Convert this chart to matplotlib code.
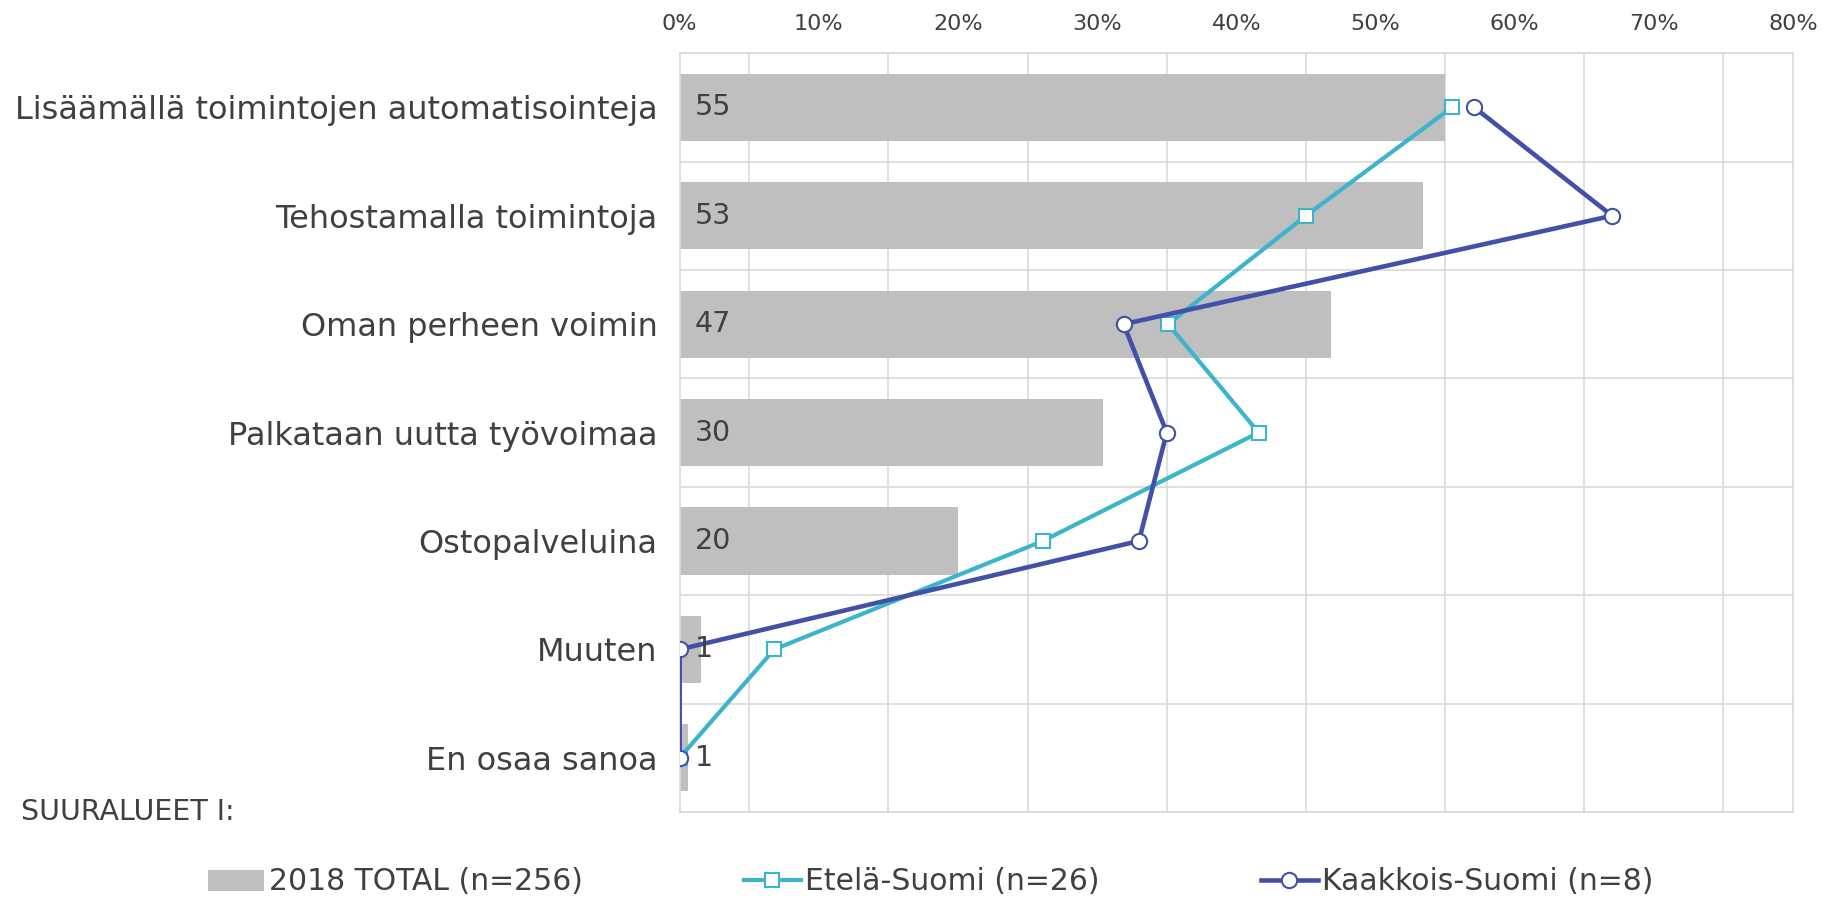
import matplotlib
matplotlib.use("Agg")
import matplotlib.pyplot as plt
import numpy as np

categories = ["Lisäämällä toimintojen automatisointeja", "Tehostamalla toimintoja",
              "Oman perheen voimin", "Palkataan uutta työvoimaa", "Ostopalveluina",
              "Muuten", "En osaa sanoa"]
total_2018 = [55.0, 53.4, 46.8, 30.4, 20.0, 1.5, 0.6]
total_labels = ["55", "53", "47", "30", "20", "1", "1"]
etela = [55.5, 45.0, 35.1, 41.6, 26.1, 6.8, 0.0]
kaakkois = [57.1, 67.0, 31.9, 35.0, 33.0, 0.0, 0.0]
xticks = [0, 10, 20, 30, 40, 50, 60, 70, 80]
xtick_labels = ["0%", "10%", "20%", "30%", "40%", "50%", "60%", "70%", "80%"]

plt.rcParams['font.family'] = ['DejaVu Sans']
fig = plt.figure(figsize=(18.32, 9.01), dpi=100)
ax = fig.add_axes([0.371, 0.0988, 0.6077, 0.8422])

y = np.arange(len(categories))
grid_c = "#D9D9D9"
text_c = "#404040"

bars = ax.barh(y, total_2018, height=0.62, color="#BFBFBF", zorder=2, label="2018 TOTAL (n=256)")
for yi, lab in zip(y, total_labels):
    ax.text(1.1, yi, lab, va="center", ha="left", fontsize=20.5, color=text_c, zorder=5)

l1, = ax.plot(etela, y, color="#3BB4CC", lw=3, marker="s", ms=10, mfc="white", mec="#3BB4CC",
              mew=1.5, zorder=3, label="Etelä-Suomi (n=26)")
l2, = ax.plot(kaakkois, y, color="#4250A8", lw=3.3, marker="o", ms=11, mfc="white", mec="#4250A8",
              mew=1.5, zorder=4, label="Kaakkois-Suomi (n=8)")

ax.set_xlim(0, 80)
ax.set_ylim(len(categories) - 0.5, -0.5)
ax.xaxis.tick_top()
ax.set_xticks(xticks)
ax.set_xticklabels(xtick_labels, fontsize=16, color=text_c)
ax.set_xticks(np.arange(0, 81, 5), minor=True)
ax.set_yticks(y)
ax.set_yticklabels(categories, fontsize=23, color=text_c)
ax.set_yticks(np.arange(-0.5, len(categories), 1), minor=True)
ax.tick_params(axis="both", which="both", length=0)
ax.tick_params(axis="x", pad=14)
ax.tick_params(axis="y", pad=16)
ax.grid(True, which="minor", color=grid_c, lw=1.2, zorder=0)
ax.grid(False, which="major")
for s in ax.spines.values():
    s.set_color(grid_c)
    s.set_linewidth(1.2)

fig.text(21 / 1832, 1 - 812 / 901, "SUURALUEET I:", fontsize=20.5, color=text_c, va="center", ha="left")

leg = fig.legend(handles=[bars, l1, l2], loc="center", bbox_to_anchor=(0.508, 1 - 882 / 901), ncol=3,
                 frameon=False, fontsize=21.5, columnspacing=5.4, handlelength=1.9, handletextpad=0.15)
for t in leg.get_texts():
    t.set_color(text_c)

fig.savefig("out.png", dpi=100)
